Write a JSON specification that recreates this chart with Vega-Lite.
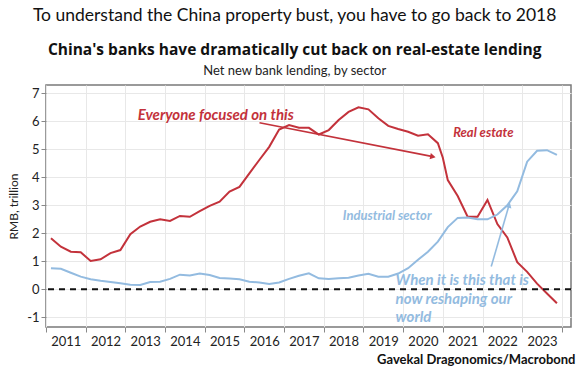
{
  "$schema": "https://vega.github.io/schema/vega-lite/v6.json",
  "background": "white",
  "padding": {"left": 6, "right": 14, "top": 7, "bottom": 2},
  "title": {
    "text": "To understand the China property bust, you have to go back to 2018",
    "font": "Lato",
    "fontSize": 17.5,
    "fontWeight": "normal",
    "color": "#111111",
    "anchor": "middle",
    "frame": "bounds",
    "offset": 17
  },
  "config": {
    "font": "Lato",
    "view": {"stroke": "#7a7a7a", "strokeWidth": 1.5},
    "concat": {"spacing": 0}
  },
  "datasets": {
    "series": [
      {"t": 2011.125, "sector": "Real estate", "v": 1.82},
      {"t": 2011.375, "sector": "Real estate", "v": 1.52},
      {"t": 2011.625, "sector": "Real estate", "v": 1.34},
      {"t": 2011.875, "sector": "Real estate", "v": 1.32},
      {"t": 2012.125, "sector": "Real estate", "v": 1.01},
      {"t": 2012.375, "sector": "Real estate", "v": 1.07},
      {"t": 2012.625, "sector": "Real estate", "v": 1.29},
      {"t": 2012.875, "sector": "Real estate", "v": 1.40},
      {"t": 2013.125, "sector": "Real estate", "v": 1.97},
      {"t": 2013.375, "sector": "Real estate", "v": 2.24},
      {"t": 2013.625, "sector": "Real estate", "v": 2.41},
      {"t": 2013.875, "sector": "Real estate", "v": 2.50},
      {"t": 2014.125, "sector": "Real estate", "v": 2.44},
      {"t": 2014.375, "sector": "Real estate", "v": 2.62},
      {"t": 2014.625, "sector": "Real estate", "v": 2.59},
      {"t": 2014.875, "sector": "Real estate", "v": 2.79},
      {"t": 2015.125, "sector": "Real estate", "v": 2.98},
      {"t": 2015.375, "sector": "Real estate", "v": 3.13},
      {"t": 2015.625, "sector": "Real estate", "v": 3.49},
      {"t": 2015.875, "sector": "Real estate", "v": 3.66},
      {"t": 2016.125, "sector": "Real estate", "v": 4.14},
      {"t": 2016.375, "sector": "Real estate", "v": 4.62},
      {"t": 2016.625, "sector": "Real estate", "v": 5.09},
      {"t": 2016.875, "sector": "Real estate", "v": 5.71},
      {"t": 2017.125, "sector": "Real estate", "v": 5.87},
      {"t": 2017.375, "sector": "Real estate", "v": 5.77},
      {"t": 2017.625, "sector": "Real estate", "v": 5.77},
      {"t": 2017.875, "sector": "Real estate", "v": 5.53},
      {"t": 2018.125, "sector": "Real estate", "v": 5.69},
      {"t": 2018.375, "sector": "Real estate", "v": 6.05},
      {"t": 2018.625, "sector": "Real estate", "v": 6.34},
      {"t": 2018.875, "sector": "Real estate", "v": 6.50},
      {"t": 2019.125, "sector": "Real estate", "v": 6.43},
      {"t": 2019.375, "sector": "Real estate", "v": 6.11},
      {"t": 2019.625, "sector": "Real estate", "v": 5.84},
      {"t": 2019.875, "sector": "Real estate", "v": 5.73},
      {"t": 2020.125, "sector": "Real estate", "v": 5.63},
      {"t": 2020.375, "sector": "Real estate", "v": 5.49},
      {"t": 2020.625, "sector": "Real estate", "v": 5.54},
      {"t": 2020.875, "sector": "Real estate", "v": 5.22},
      {"t": 2021.0, "sector": "Real estate", "v": 4.70},
      {"t": 2021.125, "sector": "Real estate", "v": 3.90},
      {"t": 2021.375, "sector": "Real estate", "v": 3.33},
      {"t": 2021.625, "sector": "Real estate", "v": 2.59},
      {"t": 2021.875, "sector": "Real estate", "v": 2.59},
      {"t": 2022.125, "sector": "Real estate", "v": 3.19},
      {"t": 2022.375, "sector": "Real estate", "v": 2.33},
      {"t": 2022.625, "sector": "Real estate", "v": 1.85},
      {"t": 2022.875, "sector": "Real estate", "v": 0.97},
      {"t": 2023.125, "sector": "Real estate", "v": 0.62},
      {"t": 2023.375, "sector": "Real estate", "v": 0.20},
      {"t": 2023.625, "sector": "Real estate", "v": -0.15},
      {"t": 2023.875, "sector": "Real estate", "v": -0.50},
      {"t": 2011.125, "sector": "Industrial sector", "v": 0.75},
      {"t": 2011.375, "sector": "Industrial sector", "v": 0.73},
      {"t": 2011.625, "sector": "Industrial sector", "v": 0.59},
      {"t": 2011.875, "sector": "Industrial sector", "v": 0.45},
      {"t": 2012.125, "sector": "Industrial sector", "v": 0.36},
      {"t": 2012.375, "sector": "Industrial sector", "v": 0.30},
      {"t": 2012.625, "sector": "Industrial sector", "v": 0.26},
      {"t": 2012.875, "sector": "Industrial sector", "v": 0.21},
      {"t": 2013.125, "sector": "Industrial sector", "v": 0.16},
      {"t": 2013.375, "sector": "Industrial sector", "v": 0.15},
      {"t": 2013.625, "sector": "Industrial sector", "v": 0.26},
      {"t": 2013.875, "sector": "Industrial sector", "v": 0.27},
      {"t": 2014.125, "sector": "Industrial sector", "v": 0.37},
      {"t": 2014.375, "sector": "Industrial sector", "v": 0.52},
      {"t": 2014.625, "sector": "Industrial sector", "v": 0.49},
      {"t": 2014.875, "sector": "Industrial sector", "v": 0.56},
      {"t": 2015.125, "sector": "Industrial sector", "v": 0.51},
      {"t": 2015.375, "sector": "Industrial sector", "v": 0.40},
      {"t": 2015.625, "sector": "Industrial sector", "v": 0.38},
      {"t": 2015.875, "sector": "Industrial sector", "v": 0.36},
      {"t": 2016.125, "sector": "Industrial sector", "v": 0.27},
      {"t": 2016.375, "sector": "Industrial sector", "v": 0.24},
      {"t": 2016.625, "sector": "Industrial sector", "v": 0.19},
      {"t": 2016.875, "sector": "Industrial sector", "v": 0.24},
      {"t": 2017.125, "sector": "Industrial sector", "v": 0.37},
      {"t": 2017.375, "sector": "Industrial sector", "v": 0.48},
      {"t": 2017.625, "sector": "Industrial sector", "v": 0.57},
      {"t": 2017.875, "sector": "Industrial sector", "v": 0.39},
      {"t": 2018.125, "sector": "Industrial sector", "v": 0.37},
      {"t": 2018.375, "sector": "Industrial sector", "v": 0.39},
      {"t": 2018.625, "sector": "Industrial sector", "v": 0.41},
      {"t": 2018.875, "sector": "Industrial sector", "v": 0.49},
      {"t": 2019.125, "sector": "Industrial sector", "v": 0.55},
      {"t": 2019.375, "sector": "Industrial sector", "v": 0.45},
      {"t": 2019.625, "sector": "Industrial sector", "v": 0.45},
      {"t": 2019.875, "sector": "Industrial sector", "v": 0.56},
      {"t": 2020.125, "sector": "Industrial sector", "v": 0.75},
      {"t": 2020.375, "sector": "Industrial sector", "v": 1.05},
      {"t": 2020.625, "sector": "Industrial sector", "v": 1.34},
      {"t": 2020.875, "sector": "Industrial sector", "v": 1.70},
      {"t": 2021.125, "sector": "Industrial sector", "v": 2.22},
      {"t": 2021.375, "sector": "Industrial sector", "v": 2.55},
      {"t": 2021.625, "sector": "Industrial sector", "v": 2.56},
      {"t": 2021.875, "sector": "Industrial sector", "v": 2.50},
      {"t": 2022.125, "sector": "Industrial sector", "v": 2.50},
      {"t": 2022.375, "sector": "Industrial sector", "v": 2.67},
      {"t": 2022.625, "sector": "Industrial sector", "v": 3.00},
      {"t": 2022.875, "sector": "Industrial sector", "v": 3.50},
      {"t": 2023.125, "sector": "Industrial sector", "v": 4.56},
      {"t": 2023.375, "sector": "Industrial sector", "v": 4.95},
      {"t": 2023.625, "sector": "Industrial sector", "v": 4.97},
      {"t": 2023.875, "sector": "Industrial sector", "v": 4.80}
    ],
    "zero": [{"v": 0}],
    "notes": [
      {"t": 2013.31, "v": 6.22, "label": "Everyone focused on this", "sector": "Real estate", "size": "m"},
      {"t": 2021.26, "v": 5.59, "label": "Real estate", "sector": "Real estate", "size": "s"},
      {"t": 2018.48, "v": 2.62, "label": "Industrial sector", "sector": "Industrial sector", "size": "s"},
      {"t": 2019.81, "v": 0.33, "label": "When it is this that is", "sector": "Industrial sector", "size": "m"},
      {"t": 2019.81, "v": -0.35, "label": "now reshaping our", "sector": "Industrial sector", "size": "m"},
      {"t": 2019.81, "v": -1.0, "label": "world", "sector": "Industrial sector", "size": "m"}
    ],
    "arrows": [
      {"t": 2016.38, "v": 5.95, "t2": 2020.75, "v2": 4.74, "sector": "Real estate"},
      {"t": 2022.22, "v": 0.81, "t2": 2022.67, "v2": 3.01, "sector": "Industrial sector"}
    ]
  },
  "vconcat": [
    {
      "width": 525,
      "height": 242,
      "title": {
        "text": "China's banks have dramatically cut back on real-estate lending",
        "subtitle": "Net new bank lending, by sector",
        "font": "Open Sans",
        "fontSize": 15.5,
        "fontWeight": "bold",
        "color": "#111111",
        "subtitleFont": "Lato",
        "subtitleFontSize": 13,
        "subtitleColor": "#222222",
        "subtitlePadding": 7,
        "anchor": "middle",
        "frame": "bounds",
        "offset": 7
      },
      "layer": [
        {
          "data": {"name": "series"},
          "mark": {"type": "line", "strokeWidth": 2},
          "encoding": {
            "x": {
              "field": "t",
              "type": "quantitative",
              "scale": {"domain": [2011, 2024.23], "nice": false, "zero": false},
              "axis": {
                "values": [2011, 2012, 2013, 2014, 2015, 2016, 2017, 2018, 2019, 2020, 2021, 2022, 2023, 2024],
                "tickCount": 20,
                "format": "d",
                "labelExpr": "datum.value >= 2024 ? '' : datum.label",
                "labelOffset": 19.8,
                "labelFlush": false,
                "labelOverlap": false,
                "labelBound": false,
                "labelFontSize": 13,
                "labelColor": "#222222",
                "labelPadding": 3,
                "tickSize": 5,
                "tickColor": "#888888",
                "grid": true,
                "gridColor": "#e8e8e8",
                "domain": false,
                "title": "Gavekal Dragonomics/Macrobond",
                "titleFontSize": 13,
                "titleFontWeight": "bold",
                "titleColor": "#111111",
                "titleAnchor": "end",
                "titleAlign": "right",
                "titleX": 529,
                "titleY": 36,
                "titleBaseline": "alphabetic"
              }
            },
            "y": {
              "field": "v",
              "type": "quantitative",
              "scale": {"domain": [-1.35, 7.3], "nice": false, "zero": false},
              "axis": {
                "values": [-1, 0, 1, 2, 3, 4, 5, 6, 7],
                "tickCount": 12,
                "labelExpr": "replace(datum.label, '\u2212', '-')",
                "labelOverlap": false,
                "labelFontSize": 13,
                "labelColor": "#222222",
                "labelPadding": 2,
                "tickSize": 5,
                "tickColor": "#888888",
                "grid": true,
                "gridColor": "#e8e8e8",
                "domain": false,
                "title": "RMB, trillion",
                "titleFontSize": 12,
                "titleFontWeight": "normal",
                "titleColor": "#222222",
                "titlePadding": 6
              }
            },
            "color": {
              "field": "sector",
              "type": "nominal",
              "scale": {"domain": ["Real estate", "Industrial sector"], "range": ["#c3323b", "#93bbe0"]},
              "legend": null
            }
          }
        },
        {
          "data": {"name": "zero"},
          "mark": {"type": "rule", "color": "#111111", "strokeWidth": 2, "strokeDash": [6, 5]},
          "encoding": {"y": {"field": "v", "type": "quantitative"}}
        },
        {
          "data": {"name": "arrows"},
          "mark": {"type": "rule", "strokeWidth": 1.6},
          "encoding": {
            "x": {"field": "t", "type": "quantitative"},
            "y": {"field": "v", "type": "quantitative"},
            "x2": {"field": "t2"},
            "y2": {"field": "v2"},
            "color": {"field": "sector", "type": "nominal", "legend": null}
          }
        },
        {
          "data": {"name": "arrows"},
          "transform": [{"filter": "datum.sector == 'Real estate'"}],
          "mark": {"type": "point", "shape": "triangle-up", "filled": true, "size": 40, "angle": 101, "opacity": 1},
          "encoding": {
            "x": {"field": "t2", "type": "quantitative"},
            "y": {"field": "v2", "type": "quantitative"},
            "color": {"field": "sector", "type": "nominal", "legend": null}
          }
        },
        {
          "data": {"name": "arrows"},
          "transform": [{"filter": "datum.sector == 'Industrial sector'"}],
          "mark": {"type": "point", "shape": "triangle-up", "filled": true, "size": 40, "angle": 16, "opacity": 1},
          "encoding": {
            "x": {"field": "t2", "type": "quantitative"},
            "y": {"field": "v2", "type": "quantitative"},
            "color": {"field": "sector", "type": "nominal", "legend": null}
          }
        },
        {
          "data": {"name": "notes"},
          "transform": [{"filter": "datum.size == 'm'"}],
          "mark": {"type": "text", "align": "left", "baseline": "middle", "fontSize": 15, "fontWeight": "bold", "fontStyle": "italic"},
          "encoding": {
            "x": {"field": "t", "type": "quantitative"},
            "y": {"field": "v", "type": "quantitative"},
            "text": {"field": "label"},
            "color": {"field": "sector", "type": "nominal", "legend": null}
          }
        },
        {
          "data": {"name": "notes"},
          "transform": [{"filter": "datum.size == 's'"}],
          "mark": {"type": "text", "align": "left", "baseline": "middle", "fontSize": 13, "fontWeight": "bold", "fontStyle": "italic"},
          "encoding": {
            "x": {"field": "t", "type": "quantitative"},
            "y": {"field": "v", "type": "quantitative"},
            "text": {"field": "label"},
            "color": {"field": "sector", "type": "nominal", "legend": null}
          }
        }
      ]
    }
  ]
}
